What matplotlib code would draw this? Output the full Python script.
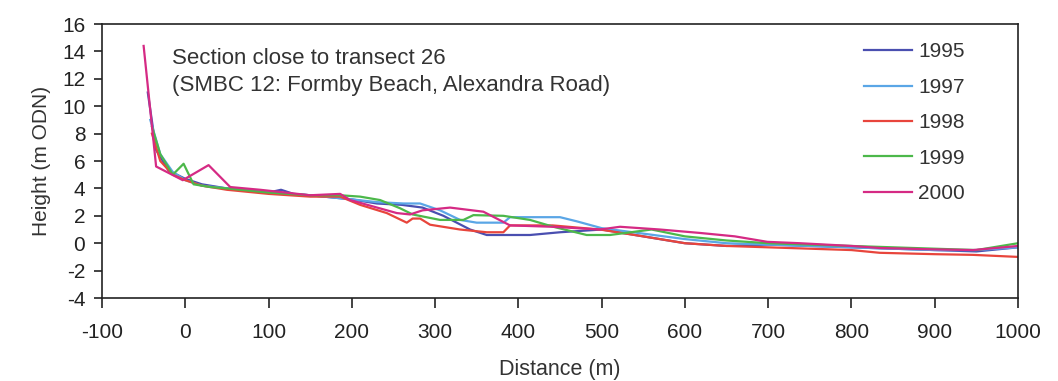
import matplotlib
matplotlib.use("Agg")
import matplotlib.pyplot as plt

# profile data (distance in m, height in m ODN)
x_1995 = [-45, -35, -20, 0, 20, 50, 100, 115, 130, 150, 200, 230, 260, 285, 310, 342, 362, 414, 450, 500, 550, 600, 650, 700, 750, 800, 850, 900, 950, 1000]
y_1995 = [11.0, 6.8, 5.3, 4.7, 4.3, 4.0, 3.7, 3.9, 3.6, 3.5, 3.2, 2.9, 2.8, 2.6, 2.0, 1.0, 0.6, 0.6, 0.8, 1.0, 0.5, 0.0, -0.2, -0.1, -0.2, -0.3, -0.4, -0.5, -0.6, -0.3]

x_1997 = [-42, -30, -15, 0, 20, 50, 100, 150, 200, 230, 262, 282, 306, 330, 350, 382, 390, 450, 470, 500, 550, 600, 650, 700, 750, 800, 850, 900, 950, 1000]
y_1997 = [9.0, 6.5, 5.2, 4.6, 4.2, 4.0, 3.7, 3.5, 3.2, 3.0, 2.9, 2.9, 2.4, 1.7, 1.5, 1.5, 1.9, 1.9, 1.6, 1.1, 0.7, 0.3, 0.0, -0.1, -0.2, -0.3, -0.4, -0.5, -0.5, -0.3]

x_1998 = [-40, -30, -15, 0, 20, 50, 100, 150, 186, 210, 242, 266, 273, 282, 294, 330, 362, 382, 390, 441, 498, 550, 600, 650, 700, 750, 800, 834, 900, 946, 1000]
y_1998 = [8.0, 6.0, 5.0, 4.6, 4.2, 3.9, 3.6, 3.4, 3.4, 2.8, 2.2, 1.5, 1.8, 1.8, 1.35, 1.0, 0.8, 0.8, 1.3, 1.3, 1.0, 0.5, 0.0, -0.2, -0.3, -0.4, -0.5, -0.7, -0.8, -0.85, -1.0]

x_1999 = [-40, -30, -15, -2, 10, 30, 50, 100, 150, 186, 210, 234, 258, 273, 306, 334, 346, 382, 414, 442, 482, 510, 560, 600, 650, 700, 750, 800, 850, 900, 950, 1000]
y_1999 = [8.5, 6.5, 5.0, 5.8, 4.3, 4.1, 4.0, 3.7, 3.5, 3.5, 3.4, 3.15, 2.55, 2.1, 1.7, 1.7, 2.05, 2.0, 1.7, 1.2, 0.6, 0.6, 1.0, 0.5, 0.2, 0.0, -0.1, -0.2, -0.3, -0.4, -0.5, 0.0]

x_2000 = [-50, -35, -3, 28, 54, 90, 150, 186, 198, 254, 270, 285, 318, 358, 390, 441, 498, 522, 570, 618, 660, 699, 738, 800, 834, 900, 946, 1000]
y_2000 = [14.4, 5.6, 4.6, 5.7, 4.1, 3.9, 3.5, 3.6, 3.15, 2.2, 2.1, 2.4, 2.6, 2.3, 1.3, 1.2, 1.0, 1.2, 1.0, 0.75, 0.5, 0.1, 0.0, -0.2, -0.35, -0.45, -0.5, -0.2]

years = ["1995", "1997", "1998", "1999", "2000"]
colors = ["#4a4fb0", "#5aa6e6", "#e8453c", "#4cb84a", "#d52a84"]

plt.rcParams["font.family"] = ["Liberation Sans", "DejaVu Sans"]
plt.rcParams["axes.unicode_minus"] = False

fig = plt.figure(figsize=(10.58, 3.81), dpi=100)
ax = fig.add_axes([0.0964, 0.2178, 0.8658, 0.7192])

series = [(x_1995, y_1995), (x_1997, y_1997), (x_1998, y_1998), (x_1999, y_1999), (x_2000, y_2000)]
for (xs, ys), yr, c in zip(series, years, colors):
    ax.plot(xs, ys, color=c, lw=1.6, label=yr)

ax.set_xlim(-100, 1000)
ax.set_ylim(-4, 16)
ax.set_xticks(range(-100, 1001, 100))
ax.set_yticks(range(-4, 17, 2))
ax.tick_params(axis="x", length=7, width=1.2, pad=11, labelsize=15, colors="#222222")
ax.tick_params(axis="y", length=6, width=1.2, pad=6, labelsize=15, colors="#222222")
for s in ax.spines.values():
    s.set_linewidth(1.2)
    s.set_color("#222222")

ax.set_xlabel("Distance (m)", fontsize=15.5, color="#333333", labelpad=12)
ax.set_ylabel("Height (m ODN)", fontsize=15, color="#333333", labelpad=8)

fig.text(0.1626, 0.874, "Section close to transect 26\n(SMBC 12: Formby Beach, Alexandra Road)",
         fontsize=16, color="#333333", va="top", ha="left", linespacing=1.35)

ax.legend(loc="upper left", bbox_to_anchor=(0.823, 0.9635), borderaxespad=0, frameon=False,
          fontsize=15, handlelength=2.3, handletextpad=0.3, labelspacing=0.79,
          labelcolor="#333333")

fig.savefig("out.png", dpi=100)
